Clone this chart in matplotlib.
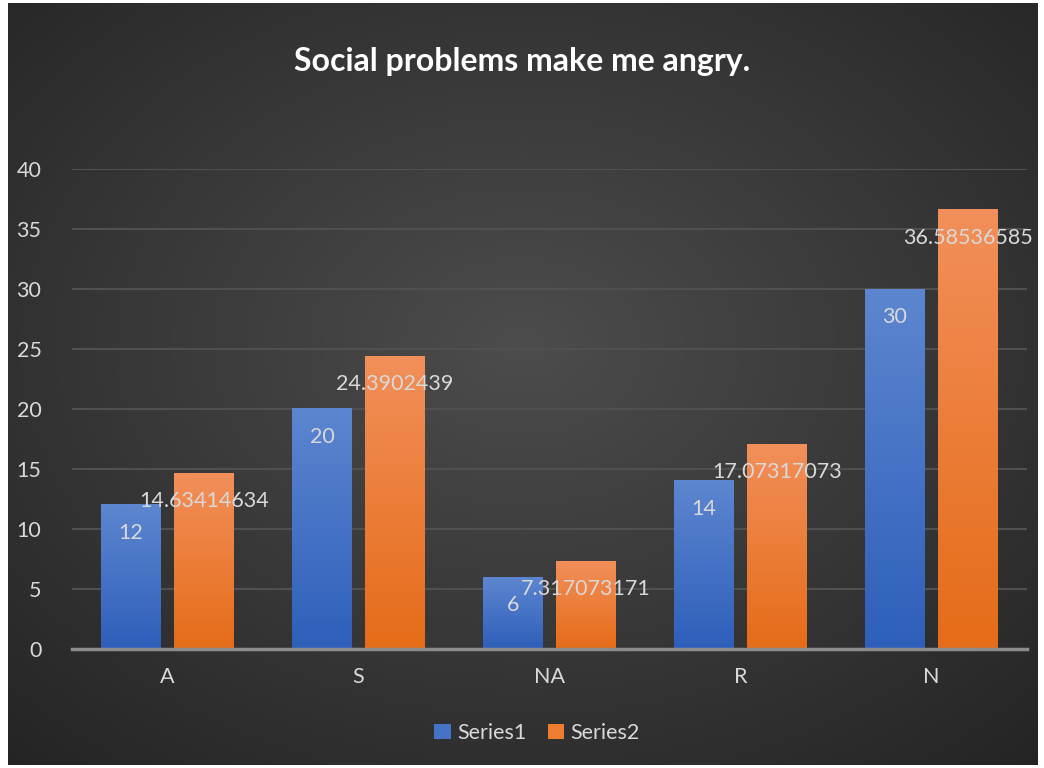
import numpy as np
import matplotlib
matplotlib.use("Agg")
import matplotlib.pyplot as plt
from matplotlib.patches import Patch

categories = ["A", "S", "NA", "R", "N"]
series1 = [12, 20, 6, 14, 30]
series2 = [14.63414634, 24.3902439, 7.317073171, 17.07317073, 36.58536585]
labels1 = ["12", "20", "6", "14", "30"]
labels2 = ["14.63414634", "24.3902439", "7.317073171", "17.07317073", "36.58536585"]
yticks = [0, 5, 10, 15, 20, 25, 30, 35, 40]

plt.rcParams['font.family'] = ['Lato', 'DejaVu Sans']
text_col = '#d9d9d9'
fs = 15.5

W, H = 1044, 768
fig = plt.figure(figsize=(W / 100, H / 100), dpi=100)
fig.patch.set_facecolor('white')

# dark chart area with radial gradient
bg = fig.add_axes([8 / W, 3 / H, 1030 / W, 762 / H])
yy, xx = np.mgrid[-1:1:300j, -1:1:400j]
r = np.sqrt(xx ** 2 + (yy + 0.1) ** 2) / np.sqrt(2)
grad = 0.30 - 0.15 * r
bg.imshow(np.dstack([grad, grad, grad]), aspect='auto', extent=[0, 1, 0, 1],
          interpolation='bilinear')
bg.set_axis_off()

ax = fig.add_axes([72 / W, 1 - 649 / H, 955 / W, 480 / H])
ax.patch.set_alpha(0)
ax.set_zorder(2)

x = np.arange(len(categories))
w = 0.314
off = 0.191


def gradient_bars(xpos, vals, top, bottom):
    bars = ax.bar(xpos, vals, w, color=bottom, zorder=3)
    c = np.linspace(0, 1, 100)[:, None]
    t = np.array(matplotlib.colors.to_rgb(top))
    b = np.array(matplotlib.colors.to_rgb(bottom))
    img = (t * (1 - c) + b * c)[:, None, :]
    for bar in bars:
        x0, y0 = bar.get_x(), bar.get_y()
        ax.imshow(img, aspect='auto', zorder=3.5, interpolation='bilinear',
                  extent=[x0, x0 + bar.get_width(), y0, y0 + bar.get_height()])
    return bars


b1 = gradient_bars(x - off, series1, '#5d86d0', '#2e5fba')
b2 = gradient_bars(x + off, series2, '#f28f5a', '#e56c18')

ax.set_xlim(-0.5, len(categories) - 0.5)
ax.set_ylim(0, 40)
ax.set_yticks(yticks)
ax.set_xticks(x)
ax.set_xticklabels(categories)
ax.tick_params(axis='both', length=0, colors=text_col, labelsize=fs)
ax.tick_params(axis='y', pad=22)
ax.tick_params(axis='x', pad=13)
ax.grid(axis='y', color='#505050', linewidth=1.5, zorder=0)
for s in ['top', 'right', 'left']:
    ax.spines[s].set_visible(False)
ax.spines['bottom'].set_color('#8c8c8c')
ax.spines['bottom'].set_linewidth(2.5)
ax.spines['bottom'].set_zorder(4)

for bars, labs in [(b1, labels1), (b2, labels2)]:
    for bar, lab in zip(bars, labs):
        ax.annotate(lab, (bar.get_x() + bar.get_width() / 2, bar.get_height()),
                    xytext=(0, -28), textcoords='offset pixels',
                    ha='center', va='center', color=text_col, fontsize=fs,
                    zorder=5)

fig.text(0.5, 1 - 62 / H, 'Social problems make me angry.', ha='center',
         va='center', color='white', fontsize=23, fontweight='bold')

handles = [Patch(facecolor='#4472c4', label='Series1'),
           Patch(facecolor='#ed7d31', label='Series2')]
leg = fig.legend(handles=handles, loc='center', bbox_to_anchor=(537 / W, 1 - 733 / H),
                 ncol=2, frameon=False, fontsize=fs, handlelength=0.75,
                 handleheight=0.75, handletextpad=0.3, columnspacing=1.0)
for t in leg.get_texts():
    t.set_color(text_col)

fig.savefig('out.png', dpi=100, facecolor=fig.get_facecolor())
